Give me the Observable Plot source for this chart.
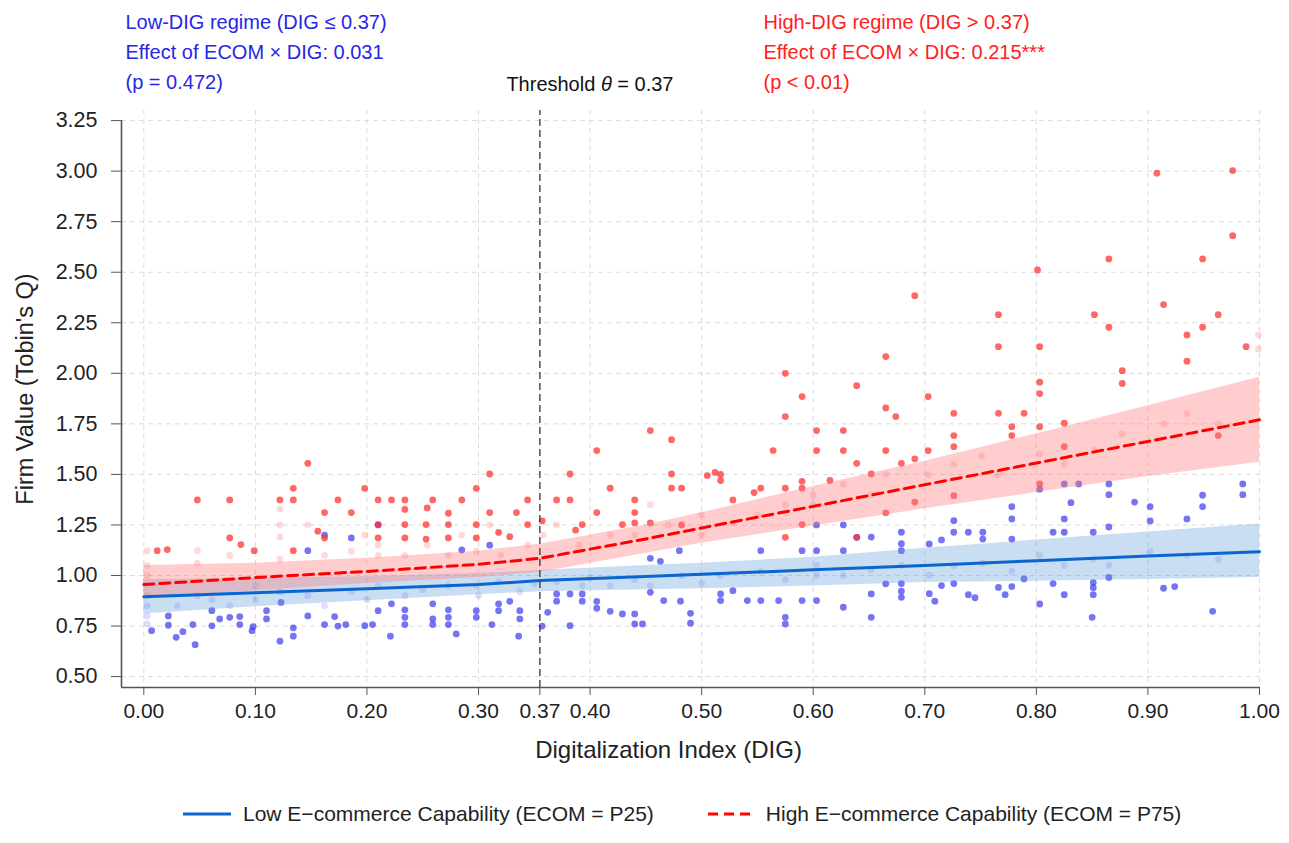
<!DOCTYPE html>
<html><head><meta charset="utf-8">
<script src="https://cdn.jsdelivr.net/npm/d3@7"></script>
<script src="https://cdn.jsdelivr.net/npm/@observablehq/plot@0.6"></script>
<style>
body{margin:0;background:#fff;font-family:"Liberation Sans",Arial,Helvetica,sans-serif;}
#wrap{position:relative;width:1289px;height:843px;overflow:hidden;}
#thr{position:absolute;top:73px;font-size:20px;color:#111;white-space:nowrap;}
#legend{position:absolute;top:802px;left:183px;display:flex;align-items:center;font-size:21px;color:#222;white-space:nowrap;}
#legend .it{display:flex;align-items:center;}
#legend svg{margin-right:12px;}
</style></head><body><div id="wrap"></div>
<script>
// ---- data ----
const yTicks = [0.5,0.75,1.0,1.25,1.5,1.75,2.0,2.25,2.5,2.75,3.0,3.25];
const xGrid = [0,0.1,0.2,0.3,0.4,0.5,0.6,0.7,0.8,0.9,1.0];
const thresholdPos = 0.355;       // where the threshold is drawn in the figure
const thresholdLabel = "0.37";
const xTicks = [0,0.1,0.2,0.3,thresholdPos,0.4,0.5,0.6,0.7,0.8,0.9,1.0];

const bandX   = [0,0.1,0.2,0.3,0.355,0.45,0.5,0.6,0.7,0.8,0.9,1.0];
const blueLo  = [0.81,0.845,0.875,0.905,0.92,0.93,0.935,0.948,0.965,0.972,0.98,0.99];
const blueMid = [0.895,0.915,0.935,0.955,0.975,0.995,1.006,1.028,1.05,1.073,1.096,1.118];
const blueHi  = [0.98,0.985,0.995,1.01,1.025,1.05,1.06,1.09,1.135,1.175,1.215,1.255];
const redLo   = [0.885,0.925,0.96,0.99,1.015,1.11,1.16,1.245,1.33,1.41,1.49,1.56];
const redMid  = [0.955,0.99,1.02,1.055,1.085,1.181,1.235,1.342,1.449,1.556,1.663,1.77];
const redHi   = [1.05,1.06,1.085,1.12,1.155,1.25,1.31,1.44,1.565,1.70,1.84,1.98];

const redPts = [[0.012,1.123],[0.021,1.128],[0.048,1.374],[0.077,1.374],[0.077,1.186],[0.087,1.153],[0.099,1.123],[0.122,1.374],[0.134,1.431],[0.134,1.374],[0.134,1.123],[0.147,1.555],[0.162,1.311],[0.174,1.374],[0.156,1.219],[0.162,1.186],
[0.186,1.311],[0.198,1.431],[0.210,1.374],[0.222,1.374],[0.234,1.374],[0.234,1.327],[0.210,1.252],[0.234,1.252],[0.210,1.186],[0.234,1.186],[0.254,1.334],[0.259,1.374],[0.253,1.252],[0.253,1.18],[0.273,1.308],[0.273,1.252],[0.273,1.186],[0.285,1.374],[0.298,1.431],[0.298,1.252],[0.298,1.186],[0.310,1.502],[0.310,1.311],[0.318,1.213],[0.328,1.192],[0.334,1.311],[0.344,1.374],[0.344,1.252],[0.357,1.27],
[0.370,1.374],[0.382,1.502],[0.382,1.374],[0.387,1.224],[0.393,1.252],[0.406,1.618],[0.406,1.311],[0.418,1.432],[0.429,1.252],[0.440,1.374],[0.440,1.311],[0.440,1.26],[0.454,1.717],[0.454,1.26],[0.473,1.672],[0.473,1.502],[0.473,1.432],[0.482,1.432],[0.482,1.25],[0.505,1.494],[0.512,1.51],[0.517,1.50],[0.517,1.47],[0.528,1.374],[0.547,1.41],[0.553,1.432],[0.564,1.618],[0.575,2.0],[0.575,1.786],[0.575,1.432],[0.575,1.189],[0.590,1.885],[0.590,1.466],[0.590,1.432],[0.590,1.252],[0.603,1.717],[0.603,1.618],[0.615,1.47],[0.627,1.717],[0.627,1.618],[0.639,1.939],[0.639,1.555],[0.639,1.189],[0.652,1.502],[0.665,2.083],[0.665,1.829],[0.665,1.618],[0.665,1.31],[0.674,1.786],[0.679,1.555],[0.703,1.885],[0.703,1.618],
[0.691,2.384],[0.726,1.802],[0.726,1.692],[0.726,1.637],[0.726,1.395],[0.691,1.363],[0.691,1.577],[0.766,2.29],[0.766,2.132],[0.766,1.802],[0.789,1.802],[0.778,1.736],[0.778,1.692],[0.801,2.511],[0.803,2.132],[0.803,1.956],[0.803,1.90],[0.803,1.736],[0.803,1.453],[0.825,1.753],[0.825,1.637],[0.852,2.29],[0.865,2.566],[0.865,2.228],[0.877,2.013],[0.877,1.95],[0.908,2.99],[0.914,2.34],[0.935,2.19],[0.935,2.06],[0.949,2.566],[0.949,2.228],[0.963,2.29],[0.963,1.692],[0.976,3.003],[0.976,2.681],[0.988,2.132]];

const redFaint = [[0.003,1.123],[0.003,1.05],[0.003,1.0],[0.048,1.123],[0.048,1.06],[0.077,1.1],[0.122,1.33],[0.122,1.25],[0.122,1.19],[0.122,1.08],[0.147,1.25],[0.162,1.1],[0.186,1.12],[0.198,1.2],[0.21,1.15],[0.21,1.1],[0.234,1.1],[0.254,1.15],[0.273,1.1],[0.285,1.2],[0.298,1.12],[0.31,1.25],[0.32,1.1],[0.344,1.15],[0.358,1.2],[0.37,1.25],[0.39,1.15],[0.418,1.2],[0.44,1.2],[0.454,1.35],[0.47,1.25],[0.5,1.2],[0.5,1.3],[0.528,1.26],[0.55,1.3],[0.575,1.35],[0.6,1.35],[0.6,1.4],[0.627,1.45],[0.652,1.4],[0.665,1.5],[0.703,1.5],[0.726,1.55],[0.751,1.59],[0.766,1.5],[0.803,1.6],[0.825,1.55],[0.852,1.62],[0.877,1.7],[0.914,1.75],[0.935,1.8],[0.963,1.75],[0.999,2.19],[0.999,2.12]];

const bluePts = [[0.007,0.727],[0.022,0.754],[0.029,0.694],[0.035,0.722],[0.046,0.658],[0.044,0.757],[0.061,0.751],[0.061,0.826],[0.068,0.785],[0.077,0.793],[0.086,0.797],[0.086,0.757],[0.098,0.747],[0.097,0.727],[0.110,0.785],[0.110,0.826],[0.122,0.675],[0.134,0.741],[0.134,0.70],[0.147,0.80],[0.162,0.757],[0.171,0.797],[0.174,0.75],[0.123,0.867],[0.022,0.80],
[0.181,0.757],[0.198,0.752],[0.205,0.757],[0.210,0.826],[0.221,0.70],[0.222,0.86],[0.234,0.793],[0.234,0.757],[0.234,0.83],[0.259,0.785],[0.259,0.757],[0.259,0.86],[0.273,0.83],[0.273,0.793],[0.273,0.757],[0.280,0.711],[0.298,0.793],[0.298,0.826],[0.312,0.757],[0.318,0.86],[0.318,0.826],[0.328,0.872],[0.337,0.826],[0.337,0.785],[0.336,0.70],[0.357,0.75],
[0.147,1.123],[0.285,1.126],[0.31,1.15],[0.186,1.186],[0.21,1.25],[0.162,1.2],
[0.362,0.818],[0.370,0.909],[0.370,0.873],[0.382,0.752],[0.382,0.909],[0.393,0.909],[0.393,0.873],[0.406,0.872],[0.406,0.838],[0.418,0.823],[0.429,0.81],[0.440,0.81],[0.440,0.76],[0.447,0.76],[0.454,0.917],[0.466,0.876],[0.481,0.873],[0.490,0.813],[0.490,0.764],[0.517,0.909],[0.517,0.876],[0.528,0.925],[0.541,0.876],[0.553,0.876],[0.569,0.876],[0.575,0.793],[0.575,0.76],[0.590,0.876],[0.603,0.876],[0.627,0.843],[0.652,0.793],[0.652,0.909],[0.679,0.892],[0.709,0.873],
[0.603,1.25],[0.627,1.25],[0.652,1.19],[0.627,1.123],[0.679,1.123],[0.639,1.189],[0.603,1.123],[0.553,1.123],[0.48,1.123],[0.454,1.085],[0.463,1.07],[0.59,1.123],
[0.679,1.214],[0.679,1.157],[0.665,0.959],[0.679,0.96],[0.679,0.922],[0.704,1.156],[0.704,0.91],[0.715,1.176],[0.715,0.95],[0.726,1.271],[0.726,1.214],[0.726,0.96],[0.739,1.214],[0.739,0.905],[0.745,0.89],[0.752,1.214],[0.752,1.18],[0.766,0.941],[0.772,0.905],[0.778,1.34],[0.778,1.28],[0.778,1.18],[0.778,0.945],[0.789,0.983],[0.803,1.427],[0.803,0.859],[0.815,1.214],[0.815,0.96],[0.825,1.453],[0.825,1.28],[0.825,1.214],[0.825,0.905],[0.831,1.36],[0.838,1.453],[0.851,1.214],[0.851,0.965],[0.851,0.94],[0.851,0.905],[0.850,0.793],[0.865,1.453],[0.865,1.40],[0.865,1.24],[0.865,0.99],[0.888,1.363],[0.902,1.34],[0.902,1.27],[0.914,0.937],[0.924,0.945],[0.935,1.28],[0.949,1.397],[0.949,1.34],[0.958,0.823],[0.985,1.453],[0.985,1.40]];

const blueFaint = [[0.003,0.85],[0.003,0.9],[0.003,0.8],[0.003,0.76],[0.03,0.85],[0.048,0.9],[0.061,0.88],[0.077,0.85],[0.1,0.88],[0.1,0.95],[0.122,0.92],[0.147,0.9],[0.162,0.85],[0.186,0.92],[0.2,0.88],[0.21,0.95],[0.234,0.9],[0.25,0.93],[0.273,0.95],[0.298,0.95],[0.3,0.9],[0.318,0.97],[0.337,0.92],[0.35,0.96],[0.37,0.97],[0.393,0.95],[0.4,0.99],[0.418,0.95],[0.44,0.98],[0.454,0.95],[0.482,1.0],[0.5,0.96],[0.517,1.0],[0.553,1.02],[0.575,0.98],[0.603,1.0],[0.603,1.05],[0.627,1.0],[0.652,1.03],[0.679,1.05],[0.704,1.0],[0.726,1.05],[0.752,1.06],[0.778,1.02],[0.803,1.1],[0.825,1.05],[0.851,1.08],[0.865,1.05],[0.902,1.12],[0.935,1.1],[0.963,1.08]];

const lowText = ["Low-DIG regime (DIG \u2264 0.37)","Effect of ECOM \u00d7 DIG: 0.031","(p = 0.472)"];
const highText = ["High-DIG regime (DIG > 0.37)","Effect of ECOM \u00d7 DIG: 0.215***","(p < 0.01)"];
const xTitle = "Digitalization Index (DIG)";
const yTitle = "Firm Value (Tobin's Q)";
const legendLow = "Low E\u2212commerce Capability (ECOM = P25)";
const legendHigh = "High E\u2212commerce Capability (ECOM = P75)";

// ---- build ----
const blueBand = bandX.map((x,i)=>({x, lo:blueLo[i], mid:blueMid[i], hi:blueHi[i]}));
const redBand = bandX.map((x,i)=>({x, lo:redLo[i], mid:redMid[i], hi:redHi[i]}));
const X = d=>d[0], Y = d=>d[1];
const yMin = 0.446, yMax = 3.30, xMin = -0.02, xMax = 1.0;
const fmt = d3.format(".2f");

const plot = Plot.plot({
  width: 1289, height: 780,
  marginTop: 110, marginBottom: 93, marginLeft: 121, marginRight: 30,
  style: {fontFamily: '"Liberation Sans", Arial, Helvetica, sans-serif', background: "white", overflow: "visible"},
  x: {domain: [xMin, xMax]},
  y: {domain: [yMin, yMax]},
  marks: [
    Plot.ruleY(yTicks, {stroke: "#dcdcdc", strokeDasharray: "5,4", strokeWidth: 1}),
    Plot.ruleX(xGrid, {stroke: "#dcdcdc", strokeDasharray: "5,4", strokeWidth: 1}),
    Plot.dot(blueFaint, {x: X, y: Y, r: 3.4, fill: "#4646ee", fillOpacity: 0.18}),
    Plot.dot(redFaint, {x: X, y: Y, r: 3.4, fill: "#ff3a3a", fillOpacity: 0.2}),
    Plot.dot(bluePts, {x: X, y: Y, r: 3.4, fill: "#3b3bef", fillOpacity: 0.7}),
    Plot.dot(redPts, {x: X, y: Y, r: 3.4, fill: "#ff3333", fillOpacity: 0.75}),
    Plot.areaY(blueBand, {x: "x", y1: "lo", y2: "hi", fill: "#5b9bd8", fillOpacity: 0.33}),
    Plot.areaY(redBand, {x: "x", y1: "lo", y2: "hi", fill: "#ff7b7b", fillOpacity: 0.38}),
    Plot.line(blueBand, {x: "x", y: "mid", stroke: "#0a66cc", strokeWidth: 3}),
    Plot.line(redBand, {x: "x", y: "mid", stroke: "#ff0000", strokeWidth: 3, strokeDasharray: "10,6"}),
    Plot.ruleX([thresholdPos], {y1: yMin, y2: yMax, stroke: "#333", strokeWidth: 1.3, strokeDasharray: "7,4"}),
    Plot.ruleX([xMin], {y1: yMin, y2: 3.25, stroke: "#555", strokeWidth: 1.6}),
    Plot.ruleY([yMin], {x1: xMin, x2: xMax, stroke: "#555", strokeWidth: 1.6}),
    Plot.axisY({ticks: yTicks, tickSize: 10, tickPadding: 14, fontSize: 21.5, tickFormat: fmt, label: null, stroke: "#555", fill: "#222"}),
    Plot.axisX({ticks: xTicks, tickSize: 8, tickPadding: 8, fontSize: 21, tickFormat: d => d === thresholdPos ? thresholdLabel : fmt(d), label: null, stroke: "#555", fill: "#222"}),
    Plot.text([xTitle], {frameAnchor: "bottom", dx: -22, dy: 70, fontSize: 24, fill: "#222", textAnchor: "middle"}),
    Plot.text([yTitle], {frameAnchor: "left", dx: -96, dy: -10, rotate: -90, fontSize: 23.5, fill: "#222", textAnchor: "middle"}),
    Plot.text([lowText.join("\n")], {frameAnchor: "top-left", dx: 4, dy: -103, textAnchor: "start", lineAnchor: "top", lineHeight: 1.5, fontSize: 20, fill: "#2626e6"}),
    Plot.text([highText.join("\n")], {frameAnchor: "top-left", dx: 642, dy: -103, textAnchor: "start", lineAnchor: "top", lineHeight: 1.5, fontSize: 20, fill: "#ff2020"})
  ]
});
const wrap = document.getElementById("wrap");
wrap.appendChild(plot);

const thr = document.createElement("div");
thr.id = "thr";
thr.innerHTML = "Threshold <i>\u03b8</i> = " + thresholdLabel;
wrap.appendChild(thr);
const tx = plot.scale("x").apply(thresholdPos);
thr.style.left = (tx - 33) + "px";

const leg = document.createElement("div");
leg.id = "legend";
leg.innerHTML =
  '<div class="it"><svg width="48" height="20"><line x1="0" y1="10" x2="48" y2="10" stroke="#0a66cc" stroke-width="3"/></svg><span></span></div>' +
  '<div class="it" style="margin-left:54px"><svg width="46" height="20"><line x1="0" y1="10" x2="46" y2="10" stroke="#ff0000" stroke-width="3" stroke-dasharray="10,6"/></svg><span></span></div>';
const spans = leg.querySelectorAll("span");
spans[0].textContent = legendLow;
spans[1].textContent = legendHigh;
wrap.appendChild(leg);
</script>
</body></html>
